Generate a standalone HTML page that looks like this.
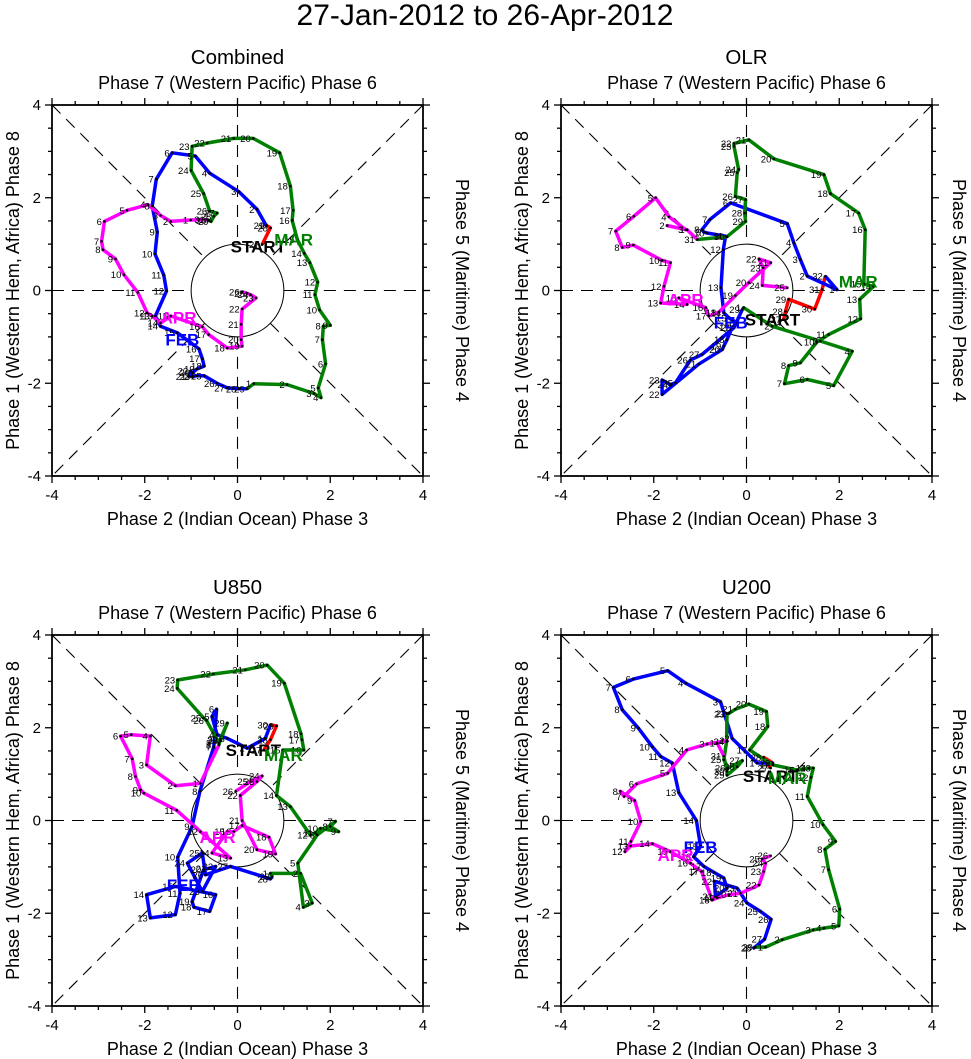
<!DOCTYPE html>
<html><head><meta charset="utf-8"><style>
html,body{margin:0;padding:0;background:#fff}
svg{display:block;font-family:"Liberation Sans",sans-serif}
</style></head><body>
<svg id="chart" width="971" height="1059" viewBox="0 0 971 1059">
<text x="485" y="25" font-size="30" text-anchor="middle">27-Jan-2012 to 26-Apr-2012</text>
</svg>
<script>
// ---------- data (RMM1, RMM2) ----------
const panelTitles = ["Combined","OLR","U850","U200"];
const tickLabels = ["-4","-2","0","2","4"];
const tickValues = [-4,-2,0,2,4];
const monthNames = ["JAN","FEB","MAR","APR"];
const monthStartDay = [27,1,1,1];

// Combined
const c_jan_x=[0.53,0.71,0.63];
const c_jan_y=[0.99,1.35,1.40];
const c_feb_x=[0.62,0.42,0.03,-0.60,-0.91,-1.41,-1.75,-1.84,-1.73,-1.78,-1.59,-1.53,-1.77,-1.66,-1.30,-0.83,-0.76,-0.72,-0.87,-0.97,-1.05,-1.01,-0.97,-0.87,-0.72,-0.44,-0.22,0.03,0.21];
const c_feb_y=[1.40,1.75,2.13,2.53,2.90,2.97,2.40,1.82,1.26,0.79,0.33,-0.01,-0.55,-0.77,-0.91,-1.26,-1.47,-1.63,-1.69,-1.77,-1.85,-1.74,-1.85,-1.84,-1.84,-2.00,-2.10,-2.12,-2.12];
const c_mar_x=[0.35,1.07,1.65,1.80,1.74,1.90,1.83,1.85,2.00,1.77,1.67,1.73,1.56,1.44,1.29,1.18,1.20,1.14,0.91,0.34,-0.08,-0.65,-0.98,-1.00,-0.73,-0.60,-0.44,-0.51,-0.57,-0.62,-0.65];
const c_mar_y=[-2.01,-2.03,-2.22,-2.31,-2.10,-1.58,-1.06,-0.77,-0.75,-0.42,-0.09,0.18,0.60,0.80,1.10,1.51,1.73,2.25,2.97,3.28,3.28,3.18,3.11,2.59,2.09,1.71,1.67,1.60,1.49,1.51,1.53];
const c_apr_x=[-1.01,-1.44,-1.66,-1.93,-2.38,-2.87,-2.93,-2.90,-2.63,-2.45,-2.15,-1.95,-1.84,-1.66,-1.44,-0.76,-0.62,-0.22,0.10,0.08,0.08,0.10,0.40,0.28,0.21,0.10];
const c_apr_y=[1.52,1.49,1.62,1.85,1.73,1.49,1.06,0.88,0.68,0.34,-0.04,-0.48,-0.55,-0.70,-0.55,-0.78,-0.95,-1.24,-1.20,-1.06,-0.73,-0.40,-0.16,-0.09,-0.06,-0.03];

// OLR
const o_jan_x=[0.80,0.84,0.91,1.47,1.63,1.70];
const o_jan_y=[-0.63,-0.45,-0.19,-0.40,0.02,0.31];
const o_feb_x=[1.95,1.31,1.16,1.02,0.88,-0.34,-0.79,-0.96,-0.92,-0.85,-0.45,-0.50,-0.55,-0.49,-0.38,-0.20,-0.31,-0.42,-0.49,-0.52,-1.03,-1.82,-1.82,-1.64,-1.53,-1.21,-0.96,-0.27,-0.09];
const o_feb_y=[0.02,0.31,0.67,1.03,1.44,1.89,1.53,1.31,1.26,1.24,1.17,0.88,0.06,-0.48,-0.59,-0.70,-0.80,-1.06,-1.20,-1.27,-1.59,-2.24,-1.93,-2.03,-1.99,-1.50,-1.38,-0.80,-0.41];
const o_mar_x=[-0.06,0.55,1.59,2.28,1.88,1.31,0.82,0.91,1.16,1.52,1.77,2.46,2.44,2.74,2.53,2.56,2.42,1.81,1.67,0.59,0.05,-0.27,-0.27,-0.17,-0.20,-0.24,-0.02,-0.04,-0.02,-0.42,-1.06];
const o_mar_y=[-0.37,-0.77,-1.09,-1.31,-2.05,-1.92,-2.01,-1.62,-1.56,-1.11,-0.95,-0.61,-0.19,0.09,0.14,1.31,1.67,2.09,2.50,2.84,3.25,3.17,3.11,2.61,2.54,2.03,1.96,1.67,1.49,1.16,1.10];
const o_apr_x=[-1.28,-1.71,-1.31,-1.67,-1.96,-2.43,-2.82,-2.68,-2.44,-1.82,-1.64,-1.78,-1.85,-1.28,-1.46,-0.88,-0.81,-0.60,-0.24,0.05,0.52,0.27,0.36,0.34,0.88];
const o_apr_y=[1.31,1.40,1.31,1.59,2.00,1.60,1.28,0.93,0.98,0.65,0.60,0.09,-0.27,-0.30,-0.16,-0.37,-0.55,-0.47,-0.11,0.17,0.60,0.68,0.49,0.11,0.06];

// U850
const u8_jan_x=[0.57,0.71,0.84,0.71];
const u8_jan_y=[1.52,1.74,2.04,2.06];
const u8_feb_x=[0.60,0.21,-0.22,-0.44,-0.55,-0.45,-0.51,-0.81,-0.98,-1.29,-1.24,-1.34,-1.88,-1.96,-1.34,-0.47,-0.60,-0.94,-0.98,-0.73,-0.62,-0.47,-0.76,-1.08,-0.76,-0.69,-0.15,0.71,0.75];
const u8_feb_y=[1.77,1.56,1.77,1.85,2.24,2.40,1.59,0.63,-0.13,-0.79,-1.57,-2.03,-2.10,-1.60,-1.42,-1.60,-1.96,-1.87,-1.75,-1.06,-1.03,-0.99,-1.53,-0.92,-0.70,-1.17,-0.99,-1.26,-1.21];
const u8_mar_x=[0.71,1.36,1.61,1.42,1.30,1.72,2.11,2.00,2.18,1.79,1.68,1.57,1.14,0.84,0.98,1.43,1.39,1.37,1.01,0.64,0.17,-0.52,-1.29,-1.30,-0.73,-0.67,-0.40,-0.37,-0.22,-0.37,-0.40];
const u8_mar_y=[-1.14,-1.14,-1.78,-1.87,-0.92,-0.31,-0.02,-0.13,-0.24,-0.17,-0.27,-0.31,0.30,0.54,1.52,1.52,1.74,1.87,2.96,3.35,3.25,3.16,3.03,2.85,2.21,2.16,1.67,1.72,2.10,1.75,1.63];
const u8_apr_x=[-0.80,-1.34,-1.96,-1.88,-2.29,-2.52,-2.27,-2.20,-2.09,-2.02,-1.31,-0.80,-0.15,-0.55,-0.22,-0.08,0.10,0.68,0.82,0.42,0.10,0.06,0.42,0.53,0.28,-0.04];
const u8_apr_y=[0.80,0.75,1.20,1.82,1.85,1.82,1.33,0.95,0.66,0.59,0.22,-0.24,-0.81,-0.70,-0.24,-0.24,-0.11,-0.36,-0.72,-0.63,0.00,0.54,0.84,0.96,0.84,0.63];

// U200
const u2_jan_x=[0.52,0.37,0.57];
const u2_jan_y=[1.13,1.36,1.24];
const u2_feb_x=[0.23,-0.31,-0.56,-1.31,-1.70,-2.44,-2.87,-2.68,-2.33,-2.03,-1.85,-1.60,-1.46,-1.08,-0.99,-1.14,-0.92,-0.70,-0.49,-0.42,-0.67,-0.69,-0.20,0.01,0.30,0.53,0.39,0.16,0.19];
const u2_feb_y=[1.24,1.77,2.56,2.96,3.23,3.05,2.87,2.39,1.99,1.59,1.38,1.24,0.60,0.00,-0.56,-0.78,-0.99,-1.12,-1.24,-1.46,-1.64,-1.31,-1.46,-1.78,-1.96,-2.13,-2.56,-2.75,-2.73];
const u2_mar_x=[0.41,0.77,1.44,1.67,1.99,2.01,1.77,1.69,1.92,1.65,1.31,1.39,1.44,1.34,1.09,0.57,0.07,0.46,0.43,0.05,-0.24,-0.38,-0.42,-0.43,-0.49,-0.40,-0.09,-0.20,-0.42,-0.42,-0.49];
const u2_mar_y=[-2.73,-2.57,-2.36,-2.32,-2.27,-1.91,-1.06,-0.62,-0.45,-0.09,0.52,0.93,1.13,1.13,1.09,1.20,1.52,2.03,2.35,2.51,2.40,2.31,2.30,1.70,1.31,1.13,1.29,1.16,0.98,1.06,1.39];
const u2_apr_x=[-0.63,-0.42,-0.85,-1.29,-1.70,-2.37,-2.64,-2.72,-2.41,-2.28,-2.49,-2.62,-2.50,-2.03,-1.64,-1.21,-0.97,-0.74,-0.63,-0.38,-0.13,0.27,0.37,0.41,0.34,0.52];
const u2_apr_y=[1.67,1.72,1.65,1.52,1.02,0.79,0.52,0.63,0.43,-0.02,-0.45,-0.67,-0.55,-0.50,-0.67,-0.92,-1.10,-1.71,-1.67,-1.60,-1.57,-1.39,-1.10,-0.92,-0.83,-0.76];

// month label anchor positions (data units): START, FEB, MAR, APR
const labelX = [[0.45,-1.19,1.21,-1.27],[0.56,-0.34,2.41,-1.31],[0.34,-1.16,0.99,-0.43],[0.52,-0.99,0.88,-1.53]];
const labelY = [[0.95,-1.06,1.10,-0.58],[-0.62,-0.69,0.19,-0.19],[1.52,-1.39,1.41,-0.36],[0.96,-0.57,0.92,-0.74]];

const panelSeries = [
 [[c_jan_x,c_jan_y],[c_feb_x,c_feb_y],[c_mar_x,c_mar_y],[c_apr_x,c_apr_y]],
 [[o_jan_x,o_jan_y],[o_feb_x,o_feb_y],[o_mar_x,o_mar_y],[o_apr_x,o_apr_y]],
 [[u8_jan_x,u8_jan_y],[u8_feb_x,u8_feb_y],[u8_mar_x,u8_mar_y],[u8_apr_x,u8_apr_y]],
 [[u2_jan_x,u2_jan_y],[u2_feb_x,u2_feb_y],[u2_mar_x,u2_mar_y],[u2_apr_x,u2_apr_y]]
];

// ---------- drawing ----------
const NS="http://www.w3.org/2000/svg";
const svg=document.getElementById('chart');
const colors=["#ff0000","#0000ff","#008000","#ff00ff"];
const panels=[{l:52,t:105,ro:33},{l:561,t:105,ro:21},{l:52,t:635,ro:33},{l:561,t:635,ro:21}];
const W=371,H=371;
function mk(tag,attrs,parent){const e=document.createElementNS(NS,tag);for(const k in attrs)e.setAttribute(k,attrs[k]);(parent||svg).appendChild(e);return e;}

panels.forEach((p,pi)=>{
  const g=mk('g',{});
  
  
  const sx=v=>p.l+(v+4)/8*W, sy=v=>p.t+(4-v)/8*H;
  const cx=sx(0), cy=sy(0), r=sx(1)-sx(0);
  let t=mk('text',{x:cx,y:p.t-41,'font-size':20.5,'text-anchor':'middle'},g);t.textContent=panelTitles[pi];
  
  t=mk('text',{x:cx,y:p.t-16,'font-size':18,'text-anchor':'middle'},g);t.textContent="Phase 7 (Western Pacific) Phase 6";
  
  t=mk('text',{x:cx,y:p.t+H+49,'font-size':18,'text-anchor':'middle'},g);t.textContent="Phase 2 (Indian Ocean) Phase 3";
  
  t=mk('text',{x:0,y:0,'font-size':18,'text-anchor':'middle',transform:`translate(${p.l-33},${cy}) rotate(-90)`},g);t.textContent="Phase 1 (Western Hem, Africa) Phase 8";
  
  t=mk('text',{x:0,y:0,'font-size':18,'text-anchor':'middle',transform:`translate(${p.l+W+p.ro},${cy}) rotate(90)`},g);t.textContent="Phase 5 (Maritime) Phase 4";
  
  const dash={stroke:'#000','stroke-width':1.1,'stroke-dasharray':'12,8',fill:'none'};
  const d=r/Math.SQRT2;
  [[sx(-4),cy,cx-r,cy],[cx+r,cy,sx(4),cy],[cx,sy(4),cx,cy-r],[cx,cy+r,cx,sy(-4)],
   [sx(-4),sy(4),cx-d,cy-d],[cx+d,cy+d,sx(4),sy(-4)],[sx(4),sy(4),cx+d,cy-d],[cx-d,cy+d,sx(-4),sy(-4)]].forEach(a=>{
    const ln=mk('line',Object.assign({x1:a[0],y1:a[1],x2:a[2],y2:a[3]},dash),g);
    
  });
  const c=mk('circle',{cx:cx,cy:cy,r:r,fill:'none',stroke:'#000','stroke-width':1},g);
  
  const fr=mk('rect',{x:p.l,y:p.t,width:W,height:H,fill:'none',stroke:'#000','stroke-width':1.8},g);
  
  for(let v=-4;v<=4;v+=0.5){
    const major=(v%2===0), L=major?7:4;
    const tl=[[sx(v),p.t+H,sx(v),p.t+H+L],[sx(v),p.t,sx(v),p.t-L],[p.l,sy(v),p.l-L,sy(v)],[p.l+W,sy(v),p.l+W+L,sy(v)]];
    tl.forEach(a=>{const k=mk('line',{x1:a[0],y1:a[1],x2:a[2],y2:a[3],stroke:'#000','stroke-width':1.3},g);
      });
  }
  tickValues.forEach((v,i)=>{
    let a=mk('text',{x:sx(v),y:p.t+H+24,'font-size':15,'text-anchor':'middle'},g);a.textContent=tickLabels[i];
    
    a=mk('text',{x:p.l-11,y:sy(v)+5,'font-size':15,'text-anchor':'end'},g);a.textContent=tickLabels[i];
    
  });
  const ser=panelSeries[pi];
  ser.forEach((s,mi)=>{
    const xs=s[0].slice(), ys=s[1].slice();
    if(mi>0){const pv=ser[mi-1];xs.unshift(pv[0][pv[0].length-1]);ys.unshift(pv[1][pv[1].length-1]);}
    const pts=xs.map((x,i)=>sx(x).toFixed(1)+','+sy(ys[i]).toFixed(1)).join(' ');
    const pl=mk('polyline',{points:pts,fill:'none',stroke:colors[mi],'stroke-width':3.5,'stroke-linejoin':'round'},g);
    
    
  });
  ser.forEach((s,mi)=>{
    s[0].forEach((x,i)=>{
      const y=s[1][i];
      const dt=mk('circle',{cx:sx(x),cy:sy(y),r:1.3,fill:'#000'},g);
      
      const lb=mk('text',{x:sx(x)-2.5,y:sy(y)+3.5,'font-size':9.5,'text-anchor':'end'},g);
      lb.textContent=String(monthStartDay[mi]+i);
      
    });
  });
  const names=["START","FEB","MAR","APR"], lc=["#000","#0000ff","#008000","#ff00ff"];
  names.forEach((n,k)=>{
    const m=mk('text',{x:sx(labelX[pi][k]),y:sy(labelY[pi][k])+6,'font-size':17,'font-weight':'bold','text-anchor':'middle',fill:lc[k]},g);
    m.textContent=n;
    
    
  });
});
</script>
</body></html>
